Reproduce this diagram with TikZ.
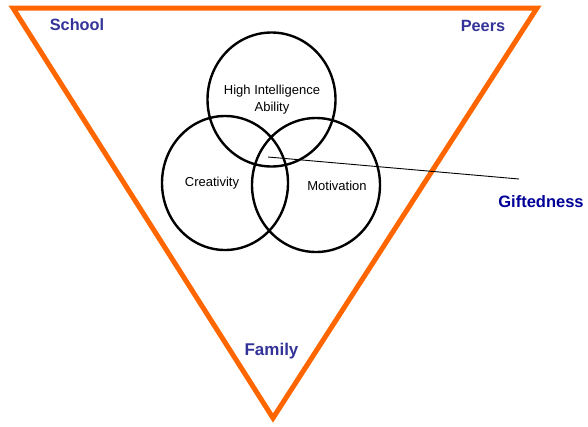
\documentclass[tikz,border=0pt]{standalone}
\usepackage{fontspec}
\setmainfont{Liberation Sans}
\definecolor{tri}{HTML}{FF6600}
\definecolor{lab}{HTML}{333399}
\definecolor{gift}{HTML}{000099}
\begin{document}
\begin{tikzpicture}[x=1pt,y=-1pt,
  tristyle/.style={draw=tri,line width=5pt,line join=miter},
  venn/.style={draw=black,line width=2.4pt},
  outer/.style={font=\fontsize{16.3}{18}\selectfont\bfseries,text=lab,inner sep=0pt},
  inner/.style={font=\fontsize{13}{17}\selectfont,inner sep=0pt,align=center}]
\useasboundingbox (0,0) rectangle (588,426);
\coordinate (tl) at (13,8);
\coordinate (tr) at (537,8);
\coordinate (bt) at (273,418);
\draw[tristyle] (tl) -- (tr) -- (bt) -- cycle;
\draw[venn] (271.5,99.5) ellipse [x radius=64, y radius=67];
\draw[venn] (225,183) ellipse [x radius=63, y radius=67];
\draw[venn] (316,185) ellipse [x radius=64, y radius=67];
\node[inner] (hi) at (272,99.5) {High Intelligence\\Ability};
\node[inner] (cr) at (212,183) {Creativity};
\node[inner] (mo) at (337,186) {Motivation};
\coordinate (c) at (268,157);
\coordinate (e) at (519,179);
\draw[line width=0.9pt] (c) -- (e);
\node[outer] (sc) at (77,25) {School};
\node[outer] (pe) at (483,26) {Peers};
\node[outer,font=\fontsize{17}{18}\selectfont\bfseries] (fa) at (271.5,351) {Family};
\node[outer,text=gift,font=\fontsize{16.5}{18}\selectfont\bfseries] (gi) at (541,202) {Giftedness};
\end{tikzpicture}
\end{document}
